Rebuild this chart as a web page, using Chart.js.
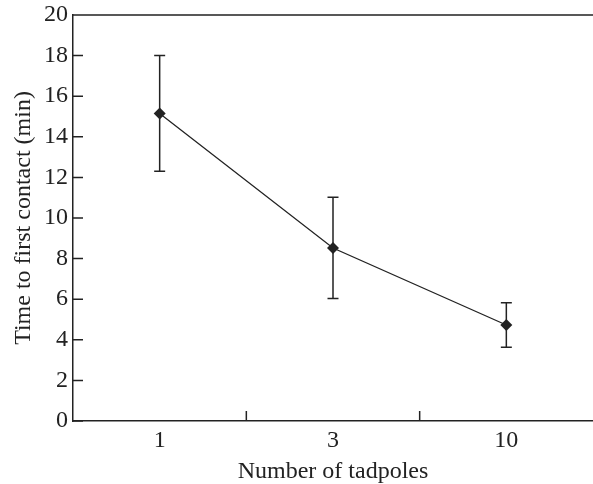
<!DOCTYPE html>
<html>
<head>
<meta charset="utf-8">
<script src="https://cdn.jsdelivr.net/npm/chart.js@4.4.1/dist/chart.umd.min.js"></script>
<style>
  html, body { margin: 0; padding: 0; background: #fff; overflow: hidden; }
  canvas { display: block; }
</style>
</head>
<body>
<canvas id="chart" width="593" height="484"></canvas>
<script>
// Data
const categories = ['1', '3', '10'];
const meanTime = [15.15, 8.52, 4.73];
const errLow = [12.3, 6.04, 3.63];
const errHigh = [18.0, 11.02, 5.83];

const ink = '#222';
const fontFamily = '"Liberation Serif", "Times New Roman", serif';

// error bars, drawn under the markers
const errorBars = {
    id: 'errorBars',
    beforeDatasetsDraw(chart) {
        const { ctx, scales: { x, y } } = chart;
        ctx.save();
        ctx.strokeStyle = ink;
        ctx.lineWidth = 1.5;
        categories.forEach((c, i) => {
            const px = x.getPixelForValue(i);
            const top = y.getPixelForValue(errHigh[i]);
            const bot = y.getPixelForValue(errLow[i]);
            ctx.beginPath();
            ctx.moveTo(px, top); ctx.lineTo(px, bot);
            ctx.moveTo(px - 5.5, top); ctx.lineTo(px + 5.5, top);
            ctx.moveTo(px - 5.5, bot); ctx.lineTo(px + 5.5, bot);
            ctx.stroke();
        });
        ctx.restore();
    }
};

// top frame line and inward ticks
const frame = {
    id: 'frame',
    afterDraw(chart) {
        const { ctx, chartArea: a, scales: { x, y } } = chart;
        ctx.save();
        ctx.strokeStyle = ink;
        ctx.lineWidth = 1.5;
        ctx.beginPath();
        ctx.moveTo(a.left, a.top); ctx.lineTo(a.right, a.top);
        y.ticks.forEach(t => {
            const py = y.getPixelForValue(t.value);
            ctx.moveTo(a.left, py); ctx.lineTo(a.left + 10, py);
        });
        for (let i = 0; i < categories.length - 1; i++) {
            const px = (x.getPixelForValue(i) + x.getPixelForValue(i + 1)) / 2;
            ctx.moveTo(px, a.bottom); ctx.lineTo(px, a.bottom - 10);
        }
        ctx.stroke();
        ctx.restore();
    }
};

new Chart(document.getElementById('chart'), {
    type: 'line',
    data: {
        labels: categories,
        datasets: [{
            data: meanTime,
            borderColor: ink,
            borderWidth: 1.3,
            backgroundColor: ink,
            pointStyle: 'rectRot',
            pointRadius: 6,
            pointBorderWidth: 0,
            tension: 0
        }]
    },
    options: {
        responsive: false,
        animation: false,
        layout: { autoPadding: false, padding: { top: 15, right: 0, bottom: 0, left: 0 } },
        plugins: { legend: { display: false }, tooltip: { enabled: false } },
        scales: {
            x: {
                offset: true,
                grid: { display: false, drawTicks: true, tickLength: 5 },
                border: { display: true, color: ink, width: 1.5 },
                ticks: { color: ink, padding: 0, font: { family: fontFamily, size: 24 } },
                title: {
                    display: true, text: 'Number of tadpoles', color: ink,
                    padding: { top: 0, bottom: 0 },
                    font: { family: fontFamily, size: 24, lineHeight: 1.05 }
                },
                afterFit(scale) {
                    scale.height = 63;
                }
            },
            y: {
                min: 0, max: 20,
                ticks: { stepSize: 2, color: ink, padding: 0, font: { family: fontFamily, size: 24 } },
                grid: { display: false, drawTicks: true, tickLength: 5 },
                border: { display: true, color: ink, width: 1.5 },
                title: {
                    display: true, text: 'Time to first contact (min)', color: ink,
                    padding: { top: 9, bottom: 0 },
                    font: { family: fontFamily, size: 24 }
                },
                afterFit(scale) {
                    scale.width = 73;
                }
            }
        }
    },
    plugins: [errorBars, frame]
});
</script>
</body>
</html>
